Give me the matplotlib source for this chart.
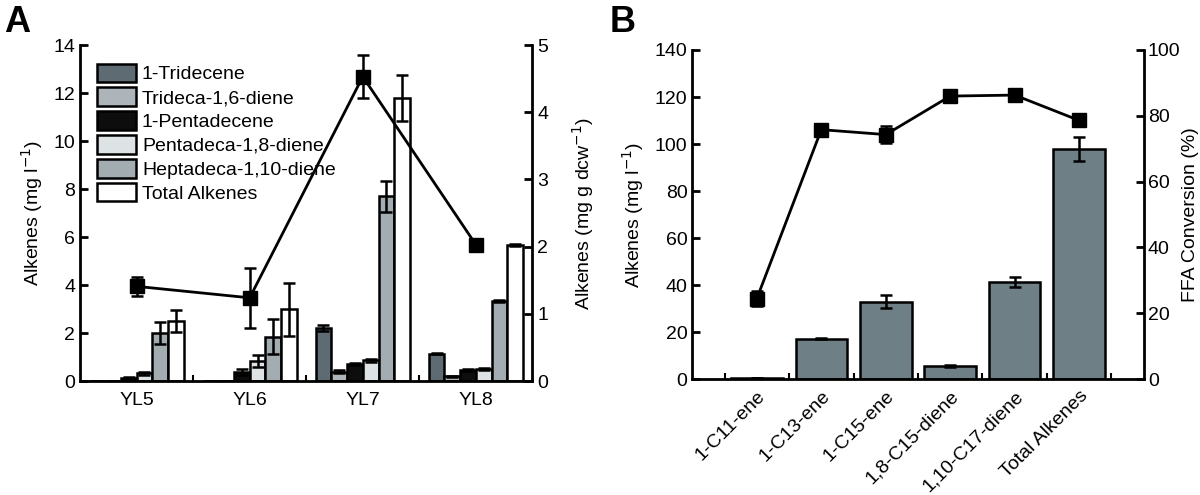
import numpy as np
import matplotlib
matplotlib.use("Agg")
import matplotlib.pyplot as plt

plt.rcParams['font.family'] = ['Liberation Sans', 'DejaVu Sans']
plt.rcParams['font.size'] = 14

# panel A data
strains = ["YL5", "YL6", "YL7", "YL8"]
series_a = ["1-Tridecene", "Trideca-1,6-diene", "1-Pentadecene",
            "Pentadeca-1,8-diene", "Heptadeca-1,10-diene", "Total Alkenes"]
tridecene = [0.0, 0.0, 2.2, 1.15]
trideca_diene = [0.0, 0.0, 0.4, 0.2]
pentadecene = [0.15, 0.38, 0.72, 0.47]
pentadeca_diene = [0.32, 0.85, 0.87, 0.5]
heptadeca_diene = [2.0, 1.85, 7.7, 3.33]
total_a = [2.5, 3.0, 11.8, 5.68]
tridecene_err = [0.0, 0.0, 0.12, 0.02]
trideca_diene_err = [0.0, 0.0, 0.08, 0.02]
pentadecene_err = [0.02, 0.12, 0.03, 0.04]
pentadeca_diene_err = [0.05, 0.25, 0.07, 0.05]
heptadeca_diene_err = [0.45, 0.72, 0.65, 0.05]
total_a_err = [0.45, 1.1, 0.95, 0.03]
specific = [1.41, 1.24, 4.53, 2.03]
specific_err = [0.14, 0.45, 0.32, 0.0]

colors_a = ["#5e6b73", "#adb5ba", "#0d0d0d", "#dde2e4", "#a3acb1", "#ffffff"]

# panel B data
products = ["1-C11-ene", "1-C13-ene", "1-C15-ene", "1,8-C15-diene",
            "1,10-C17-diene", "Total Alkenes"]
titre_b = [0.5, 17.2, 33.0, 5.5, 41.3, 98.0]
titre_b_err = [0.2, 0.3, 2.8, 0.5, 2.0, 5.0]
conversion = [24.5, 75.8, 74.3, 86.0, 86.3, 78.6]
conversion_err = [2.2, 0.6, 2.5, 1.3, 0.5, 0.5]

fig = plt.figure(figsize=(12, 4.95), dpi=100)

# ---------- panel A ----------
ax = fig.add_axes([0.0667, 0.230, 0.377, 0.679])
vals = [tridecene, trideca_diene, pentadecene, pentadeca_diene, heptadeca_diene, total_a]
errs = [tridecene_err, trideca_diene_err, pentadecene_err, pentadeca_diene_err,
        heptadeca_diene_err, total_a_err]
x = np.arange(len(strains))
w = 0.139
for i in range(6):
    pos = x + (i - 2.5) * w
    ax.bar(pos, vals[i], w, color=colors_a[i], edgecolor="black", linewidth=1.8,
           label=series_a[i], zorder=2)
    ax.errorbar(pos, vals[i], yerr=errs[i], fmt="none", ecolor="black",
                elinewidth=1.8, capsize=4, capthick=1.8, zorder=3)
ax.set_xlim(-0.5, 3.5)
ax.set_ylim(0, 14)
ax.set_yticks(range(0, 15, 2))
ax.set_xticks(x)
ax.set_xticklabels(strains)
ax.set_xticks(np.arange(0.5, 3, 1), minor=True)
ax.tick_params(axis="x", which="major", length=0, pad=8)
ax.tick_params(axis="x", which="minor", direction="in", length=4, width=1.5)
ax.tick_params(axis="y", direction="in", length=6, width=2)
ax.set_ylabel("Alkenes (mg l$^{-1}$)", labelpad=6)
ax.spines["top"].set_visible(False)
ax.spines["right"].set_visible(False)
for s in ["left", "bottom"]:
    ax.spines[s].set_linewidth(2)
ax.legend(loc="upper left", bbox_to_anchor=(0.038, 0.945), frameon=False,
          borderaxespad=0, borderpad=0, labelspacing=0.2, handlelength=2.0,
          handleheight=1.1, handletextpad=0.3, fontsize=14)

ax2 = ax.twinx()
ax2.errorbar(x, specific, yerr=specific_err, color="black", lw=2, marker="s",
             markersize=10, elinewidth=1.8, capsize=4, capthick=1.8)
ax2.set_ylim(0, 5)
ax2.set_yticks(range(0, 6))
ax2.tick_params(axis="y", direction="in", length=6, width=2)
ax2.set_ylabel("Alkenes (mg g dcw$^{-1}$)", labelpad=16)
ax2.spines["top"].set_visible(False)
ax2.spines["right"].set_linewidth(2)
ax2.spines["left"].set_visible(False)
ax2.spines["bottom"].set_visible(False)

fig.text(0.003, 0.99, "A", fontsize=26, fontweight="bold", va="top")

# ---------- panel B ----------
bx = fig.add_axes([0.577, 0.234, 0.376, 0.665])
xb = np.arange(len(products))
bx.bar(xb, titre_b, 0.8, color="#6e7f86", edgecolor="black", linewidth=1.8, zorder=2)
bx.errorbar(xb, titre_b, yerr=titre_b_err, fmt="none", ecolor="black",
            elinewidth=1.8, capsize=4, capthick=1.8, zorder=3)
bx.set_xlim(-1, 6)
bx.set_ylim(0, 140)
bx.set_yticks(range(0, 141, 20))
bx.set_xticks(xb)
bx.set_xticklabels(products, rotation=45, ha="right", rotation_mode="anchor")
bx.set_xticks(np.arange(-0.5, 6, 1), minor=True)
bx.tick_params(axis="x", which="major", length=0, pad=6)
bx.tick_params(axis="x", which="minor", direction="in", length=4, width=1.5)
bx.tick_params(axis="y", direction="in", length=6, width=2)
bx.set_ylabel("Alkenes (mg l$^{-1}$)", labelpad=6)
bx.spines["top"].set_visible(False)
bx.spines["right"].set_visible(False)
for s in ["left", "bottom"]:
    bx.spines[s].set_linewidth(2)

bx2 = bx.twinx()
bx2.errorbar(xb, conversion, yerr=conversion_err, color="black", lw=2, marker="s",
             markersize=10, elinewidth=1.8, capsize=4, capthick=1.8)
bx2.set_ylim(0, 100)
bx2.set_yticks(range(0, 101, 20))
bx2.tick_params(axis="y", direction="in", length=6, width=2, pad=3)
bx2.set_ylabel("FFA Conversion (%)", labelpad=1)
bx2.spines["top"].set_visible(False)
bx2.spines["right"].set_linewidth(2)
bx2.spines["left"].set_visible(False)
bx2.spines["bottom"].set_visible(False)

fig.text(0.508, 0.99, "B", fontsize=26, fontweight="bold", va="top")

fig.savefig("out.png", dpi=100)
